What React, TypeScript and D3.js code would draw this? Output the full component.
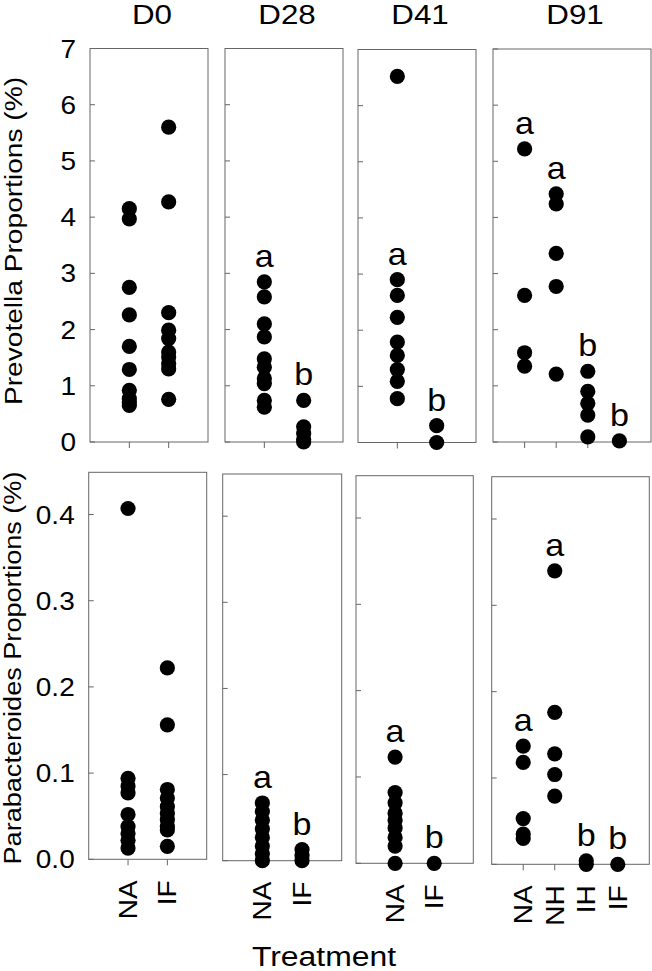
import React from "react";
import * as d3 from "d3";

// ---------- data ----------
const days = ["D0", "D28", "D41", "D91"];
const groupsTwo = ["NA", "IF"];
const groupsFour = ["NA", "NH", "IH", "IF"];

const prevD0_NA = [4.15, 3.97, 2.75, 2.26, 1.7, 1.29, 0.92, 0.77, 0.7, 0.65];
const prevD0_IF = [5.6, 4.27, 2.3, 1.99, 1.84, 1.6, 1.51, 1.39, 1.3, 0.76];
const prevD28_NA = [2.85, 2.58, 2.1, 1.87, 1.48, 1.33, 1.13, 1.04, 0.74, 0.62];
const prevD28_IF = [0.74, 0.27, 0.15, 0.04, 0.0];
const prevD41_NA = [6.52, 2.9, 2.62, 2.23, 1.79, 1.55, 1.3, 1.09, 0.78];
const prevD41_IF = [0.3, 0.0];
const prevD91_NA = [5.22, 2.61, 1.59, 1.35];
const prevD91_NH = [4.42, 4.24, 3.36, 2.77, 1.21];
const prevD91_IH = [1.26, 0.9, 0.69, 0.48, 0.09];
const prevD91_IF = [0.02];

const paraD0_NA = [0.407, 0.094, 0.085, 0.077, 0.052, 0.038, 0.03, 0.022, 0.013];
const paraD0_IF = [0.222, 0.156, 0.081, 0.071, 0.061, 0.053, 0.046, 0.038, 0.034, 0.015];
const paraD28_NA = [0.067, 0.057, 0.047, 0.037, 0.027, 0.017, 0.008, 0.0];
const paraD28_IF = [0.013, 0.006, 0.0];
const paraD41_NA = [0.123, 0.082, 0.07, 0.058, 0.05, 0.041, 0.03, 0.02, 0.0];
const paraD41_IF = [0.0];
const paraD91_NA = [0.137, 0.118, 0.053, 0.035, 0.03];
const paraD91_NH = [0.34, 0.176, 0.128, 0.104, 0.079];
const paraD91_IH = [0.004, 0.0];
const paraD91_IF = [0.0];

// significance letters and the value each letter sits above
const lettersD0: string[] = [];
const lettersD28 = ["a", "b"];
const lettersD41 = ["a", "b"];
const lettersD91 = ["a", "a", "b", "b"];
const prevLetterAtD28 = [2.85, 0.74];
const prevLetterAtD41 = [2.9, 0.3];
const prevLetterAtD91 = [5.22, 4.42, 1.26, 0.02];
const paraLetterAtD28 = [0.067, 0.013];
const paraLetterAtD41 = [0.123, 0.0];
const paraLetterAtD91 = [0.137, 0.34, 0.004, 0.0];

const prevTicks = [0, 1, 2, 3, 4, 5, 6, 7];
const paraTicks = [0, 0.1, 0.2, 0.3, 0.4];

const prevLabel = "Prevotella Proportions (%)";
const paraLabel = "Parabacteroides Proportions (%)";
const xTitle = "Treatment";

// ---------- layout ----------
const W = 652;
const H = 971;
const topLeft = [90, 225, 358, 493];
const topRight = [208, 343, 476, 651];
const topTop = [48.5, 48.5, 49.5, 49];
const topBottom = [442, 442, 442.5, 442];
const botLeft = [88.7, 222.7, 356, 491.7];
const botRight = [206.7, 341.7, 473.3, 649.3];
const botTop = [472.3, 474, 475.7, 476.7];
const botBottom = [859.3, 860.7, 863.3, 864.3];

const FONT = "'Liberation Sans', Arial, sans-serif";
const R = 7.6;
const BORDER = "#666";

type Panel = {
  day: string;
  groups: string[];
  values: number[][];
  letters: string[];
  letterAt: number[];
};

const prevPanels: Panel[] = [
  { day: days[0], groups: groupsTwo, values: [prevD0_NA, prevD0_IF], letters: lettersD0, letterAt: [] },
  { day: days[1], groups: groupsTwo, values: [prevD28_NA, prevD28_IF], letters: lettersD28, letterAt: prevLetterAtD28 },
  { day: days[2], groups: groupsTwo, values: [prevD41_NA, prevD41_IF], letters: lettersD41, letterAt: prevLetterAtD41 },
  { day: days[3], groups: groupsFour, values: [prevD91_NA, prevD91_NH, prevD91_IH, prevD91_IF], letters: lettersD91, letterAt: prevLetterAtD91 },
];
const paraPanels: Panel[] = [
  { day: days[0], groups: groupsTwo, values: [paraD0_NA, paraD0_IF], letters: lettersD0, letterAt: [] },
  { day: days[1], groups: groupsTwo, values: [paraD28_NA, paraD28_IF], letters: lettersD28, letterAt: paraLetterAtD28 },
  { day: days[2], groups: groupsTwo, values: [paraD41_NA, paraD41_IF], letters: lettersD41, letterAt: paraLetterAtD41 },
  { day: days[3], groups: groupsFour, values: [paraD91_NA, paraD91_NH, paraD91_IH, paraD91_IF], letters: lettersD91, letterAt: paraLetterAtD91 },
];

function PanelView(props: {
  p: Panel;
  left: number;
  right: number;
  top: number;
  bottom: number;
  domainMax: number;
  ticks: number[];
  tickFmt: (v: number) => string;
  showYLabels: boolean;
  showXLabels: boolean;
}) {
  const { p, left, right, top, bottom, domainMax, ticks, tickFmt, showYLabels, showXLabels } = props;
  const x = d3.scalePoint<string>().domain(p.groups).range([left, right]).padding(1);
  const y = d3.scaleLinear().domain([0, domainMax]).range([bottom, top]);
  return (
    <g>
      <rect x={left} y={top} width={right - left} height={bottom - top} fill="none" stroke={BORDER} strokeWidth={1} />
      {ticks.map((t) => (
        <line key={"yt" + t} x1={left} x2={left + 5} y1={y(t)} y2={y(t)} stroke={BORDER} strokeWidth={1} />
      ))}
      {p.groups.map((g) => (
        <line key={"xt" + g} x1={x(g)} x2={x(g)} y1={bottom} y2={bottom + 6} stroke={BORDER} strokeWidth={1} />
      ))}
      {showYLabels &&
        ticks.map((t) => (
          <text
            key={"yl" + t}
            transform={`translate(${left - 14},${y(t)}) scale(1.12,1)`}
            textAnchor="end"
            dy="0.36em"
            fontSize={25}
            fontFamily={FONT}
            fill="#000"
          >
            {tickFmt(t)}
          </text>
        ))}
      {showXLabels &&
        p.groups.map((g) => (
          <text
            key={"xl" + g}
            transform={`translate(${x(g)},${bottom + 21}) rotate(-90) scale(1.12,1)`}
            textAnchor="end"
            dy="0.36em"
            fontSize={25}
            fontFamily={FONT}
            fill="#000"
          >
            {g}
          </text>
        ))}
      {p.values.map((vals, gi) =>
        vals.map((v, i) => (
          <circle key={`c${gi}-${i}`} cx={x(p.groups[gi])} cy={y(v)} r={R} fill="#000" />
        ))
      )}
      {p.letters.map((l, gi) => (
        <text
          key={"lt" + gi}
          transform={`translate(${x(p.groups[gi])},${y(p.letterAt[gi]) - 15}) scale(1.1,1)`}
          textAnchor="middle"
          fontSize={31}
          fontFamily={FONT}
          fill="#000"
        >
          {l}
        </text>
      ))}
    </g>
  );
}

export default function App() {
  const fmt0 = d3.format("d");
  const fmt1 = d3.format(".1f");
  return (
    <svg width={W} height={H} style={{ position: "absolute", left: 0, top: 0, background: "#fff" }}>
      <rect x={0} y={0} width={W} height={H} fill="#fff" />
      {days.map((d, i) => (
        <text
          key={"title" + d}
          transform={`translate(${(topLeft[i] + topRight[i]) / 2 + 3},24) scale(1.12,1)`}
          textAnchor="middle"
          fontSize={28}
          fontFamily={FONT}
          fill="#000"
        >
          {d}
        </text>
      ))}
      {prevPanels.map((p, i) => (
        <PanelView
          key={"prev" + i}
          p={p}
          left={topLeft[i]}
          right={topRight[i]}
          top={topTop[i]}
          bottom={topBottom[i]}
          domainMax={7}
          ticks={prevTicks}
          tickFmt={fmt0}
          showYLabels={i === 0}
          showXLabels={false}
        />
      ))}
      {paraPanels.map((p, i) => (
        <PanelView
          key={"para" + i}
          p={p}
          left={botLeft[i]}
          right={botRight[i]}
          top={botTop[i]}
          bottom={botBottom[i]}
          domainMax={0.449}
          ticks={paraTicks}
          tickFmt={fmt1}
          showYLabels={i === 0}
          showXLabels={true}
        />
      ))}
      <text
        transform="translate(13.5,241) rotate(-90)"
        textAnchor="middle"
        dy="0.36em"
        fontSize={23}
        fontFamily={FONT}
        textLength={328}
        lengthAdjust="spacingAndGlyphs"
        fill="#000"
      >
        {prevLabel}
      </text>
      <text
        transform="translate(12.5,668) rotate(-90)"
        textAnchor="middle"
        dy="0.36em"
        fontSize={23}
        fontFamily={FONT}
        textLength={393}
        lengthAdjust="spacingAndGlyphs"
        fill="#000"
      >
        {paraLabel}
      </text>
      <text
        transform="translate(324,965.5) scale(1.14,1)"
        textAnchor="middle"
        fontSize={28}
        fontFamily={FONT}
        fill="#000"
      >
        {xTitle}
      </text>
    </svg>
  );
}
